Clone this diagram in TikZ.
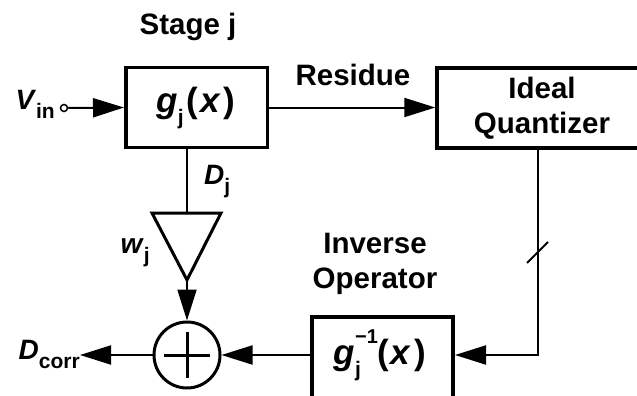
\documentclass[tikz,border=0pt]{standalone}
\usepackage{fontspec}
\setmainfont{Liberation Sans}
\usetikzlibrary{arrows.meta}
\newcommand{\lsub}[1]{\raisebox{-0.32em}{\fontsize{21}{21}\selectfont\bfseries\upshape #1}}
\newcommand{\lsup}[1]{\raisebox{0.62em}{\fontsize{20}{20}\selectfont\bfseries\upshape #1}}
\begin{document}
\begin{tikzpicture}[x=1pt,y=-1pt,
  blk/.style={draw,line width=3.5pt,inner sep=0pt},
  wire/.style={line width=2pt},
  arr/.style={wire,-{Triangle[length=31pt,width=19pt]}},
  lbl/.style={font=\fontsize{29.5}{35}\selectfont\bfseries, inner sep=0pt, align=center},
  fn/.style={font=\fontsize{35}{36}\selectfont\bfseries, inner sep=0pt},
  sym/.style={font=\fontsize{28}{30}\selectfont\bfseries, inner sep=0pt},
]
\useasboundingbox (0,0) rectangle (637,396);
\clip (0,0) rectangle (637,396);
% blocks
\node[blk, minimum width=141.5pt, minimum height=79.5pt] (stage) at (196.5,107.5) {};
\node[fn] (stagetxt) at (196,108) {\textit{g}\lsub{j}\hspace{3pt}(\hspace{2pt}\textit{x}\hspace{3pt})};
\node[blk, minimum width=223pt, minimum height=80pt] (quant) at (548.5,108) {};
\node[lbl] (quanttxt) at (542,108) {Ideal\\Quantizer};
\node[blk, minimum width=141pt, minimum height=103pt] (inv) at (382.5,368.5) {};
\node[fn] (invtxt) at (380,355) {\textit{g}\makebox[0pt][l]{\lsup{−1}}\makebox[22pt][l]{\lsub{j}}(\hspace{2pt}\textit{x}\hspace{3pt})};
% sum
\node[draw, circle, line width=3pt, minimum size=66pt, inner sep=0pt] (sum) at (187,355) {};
\draw[line width=3pt] (164,355) -- (210,355) (187,332) -- (187,378);
% triangle
\coordinate (tl) at (152,213);
\coordinate (tr) at (221,213);
\coordinate (tip) at (187,280);
\coordinate (dj) at (187,213);
\draw[line width=3pt, line join=miter] (tl) -- (tr) -- (tip) -- cycle;
% input
\node[draw, circle, line width=1.5pt, minimum size=7pt, inner sep=0pt] (vin) at (64,108) {};
\draw[arr] (vin.east) -- (stage.west);
% residue
\draw[arr] (stage.east) -- (quant.west |- stage.east);
% D_j
\draw[wire] (stage.south -| dj) -- (dj);
\draw[arr] (tip) -- (sum.north);
% feedback
\coordinate (qx) at (538,252);
\coordinate (invin) at (455,355);
\draw[arr] (quant.south -| qx) |- (invin);
\draw[wire] (527,263) -- (548,242);
\draw[arr] (inv.west |- sum.east) -- (sum.east);
\coordinate (dc) at (80,355);
\draw[arr] (sum.west) -- (dc);
% labels
\node[lbl] (stagelbl) at (188,27) {Stage j};
\node[lbl] (reslbl) at (353,75) {Residue};
\node[lbl] (invlbl) at (375,264) {Inverse\\Operator};
\node[sym, anchor=west] (djlbl) at (204,182) {\textit{D}\lsub{j}};
\node[sym, anchor=east] (wjlbl) at (150,253) {\textit{w}\lsub{j}};
\node[sym, anchor=east] (vinlbl) at (55,104) {\textit{V}\lsub{in}};
\node[sym, anchor=east] (dclbl) at (80,354) {\textit{D}\lsub{corr}};
\end{tikzpicture}
\end{document}
